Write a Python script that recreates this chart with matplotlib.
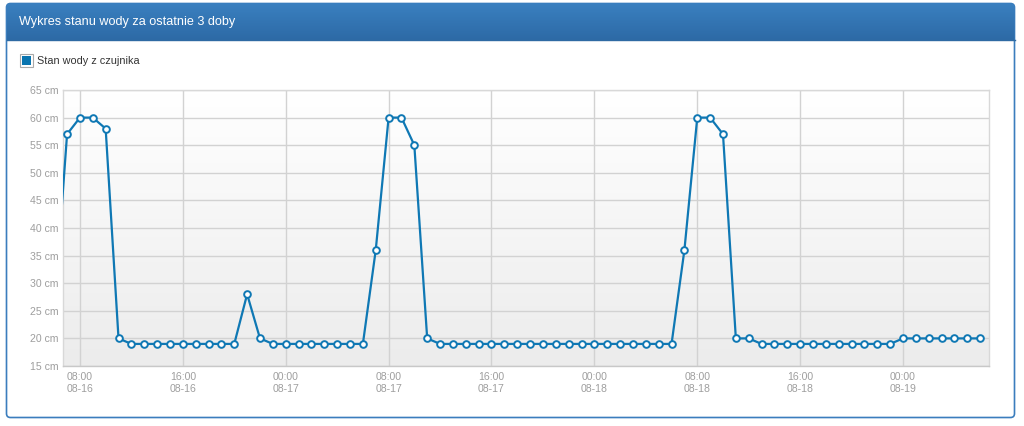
import numpy as np
import pandas as pd
import matplotlib
matplotlib.use('Agg')
import matplotlib.pyplot as plt
import matplotlib.dates as mdates
from matplotlib.patches import FancyBboxPatch, Rectangle

plt.rcParams['font.family'] = ['Liberation Sans', 'DejaVu Sans']

# Chart data: hourly water level readings (cm), 06:00 08-16 .. 06:00 08-19
title = 'Wykres stanu wody za ostatnie 3 doby'
series_name = 'Stan wody z czujnika'
start_time = '2023-08-16 06:00'
levels = [
    25, 57, 60, 60, 58, 20, 19, 19, 19, 19, 19, 19, 19, 19, 19, 28, 20, 19,
    19, 19, 19, 19, 19, 19, 19, 36, 60, 60, 55, 20, 19, 19, 19, 19, 19, 19,
    19, 19, 19, 19, 19, 19, 19, 19, 19, 19, 19, 19, 19, 36, 60, 60, 57, 20,
    20, 19, 19, 19, 19, 19, 19, 19, 19, 19, 19, 19, 20, 20, 20, 20, 20, 20,
    20,
]
y_ticks = [15, 20, 25, 30, 35, 40, 45, 50, 55, 60, 65]
view_start = '2023-08-16 06:41'
view_end = '2023-08-19 06:41'

times = pd.date_range(start_time, periods=len(levels), freq='h')

W, H = 1024, 426
fig = plt.figure(figsize=(W / 100, H / 100), dpi=100)

# Panel background (pixel coordinates)
bg = fig.add_axes([0, 0, 1, 1])
bg.set_xlim(0, W)
bg.set_ylim(H, 0)
bg.axis('off')
panel = FancyBboxPatch((6.5, 3.5), 1008, 414, boxstyle='round,pad=0,rounding_size=4',
                       facecolor='white', edgecolor='#3b7dbd', linewidth=1.2)
bg.add_patch(panel)
grad = np.linspace(0, 1, 64).reshape(-1, 1)
hdr = bg.imshow(grad, extent=(6.5, 1014.5, 40, 3.5), aspect='auto',
                cmap=matplotlib.colors.LinearSegmentedColormap.from_list('h', ['#3a80c0', '#2d6aa6']),
                zorder=2)
hdr.set_clip_path(panel)
bg.plot([6.5, 1014.5], [40, 40], color='#2e6aa3', lw=1, zorder=3)
bg.text(19, 21.5, title, color='white', fontsize=9.1, va='center', ha='left', zorder=4)

# Legend
bg.add_patch(Rectangle((20, 53.5), 13, 13, facecolor='white', edgecolor='#aaaaaa', lw=0.8, zorder=3))
bg.add_patch(Rectangle((22, 55.5), 9, 9, facecolor='#0a75b0', edgecolor='none', zorder=4))
bg.text(37, 60.5, series_name, color='#333333', fontsize=7.8, va='center', ha='left')

# Plot area
ax = fig.add_axes([63 / W, 1 - 366 / H, (989 - 63) / W, (366 - 90) / H])
ax.imshow(np.linspace(1, 0, 64).reshape(-1, 1), extent=(0, 1, 0, 1), transform=ax.transAxes,
          aspect='auto', zorder=0,
          cmap=matplotlib.colors.LinearSegmentedColormap.from_list('b', ['#ececec', '#ffffff']))
ax.plot(times, levels, color='#0f78b4', lw=1.6, marker='o', markersize=4.8,
        markerfacecolor='white', markeredgecolor='#0f78b4', markeredgewidth=1.4,
        zorder=3, clip_on=True)

ax.set_xlim(pd.Timestamp(view_start), pd.Timestamp(view_end))
ax.set_ylim(15, 65)
ax.set_yticks(y_ticks)
ax.set_yticklabels([f'{v} cm' for v in y_ticks])
ax.xaxis.set_major_locator(mdates.HourLocator(byhour=[0, 8, 16]))
ax.xaxis.set_major_formatter(mdates.DateFormatter('%H:%M\n%m-%d'))
ax.grid(True, color='#d2d2d2', lw=1, zorder=1)
ax.set_axisbelow(True)
for s in ax.spines.values():
    s.set_color('#d8d8d8')
    s.set_linewidth(1)
ax.spines['bottom'].set_color('#c8c8c8')
ax.tick_params(axis='both', length=0, labelsize=7.6, labelcolor='#9e9e9e')
ax.tick_params(axis='y', pad=3)
ax.tick_params(axis='x', pad=4)
for lbl in ax.get_xticklabels():
    lbl.set_linespacing(1.35)

fig.savefig('out.png', dpi=100)
